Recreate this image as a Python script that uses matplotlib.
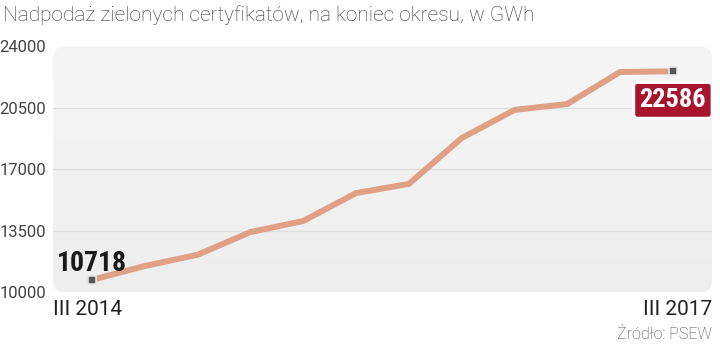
import matplotlib
matplotlib.use("Agg")
import matplotlib.pyplot as plt
import numpy as np
from matplotlib.patches import FancyBboxPatch
import matplotlib.patheffects as pe

# ---- data ----
values = [10718, 11510, 12150, 13440, 14070, 15660, 16180, 18790, 20390, 20730, 22550, 22586]
first_label = "III 2014"
last_label = "III 2017"
y_ticks = [10000, 13500, 17000, 20500, 24000]
grid_levels = [13500, 17000, 20500]
title = "Nadpodaż zielonych certyfikatów, na koniec okresu, w GWh"
source = "Źródło: PSEW"

W, H, DPI = 720, 344, 100
fig = plt.figure(figsize=(W / DPI, H / DPI), dpi=DPI)
fig.patch.set_facecolor("white")

ax_l, ax_r, ax_t, ax_b = 53, 712, 46.5, 292.5
ax = fig.add_axes([ax_l / W, 1 - ax_b / H, (ax_r - ax_l) / W, (ax_b - ax_t) / H])
ax.patch.set_visible(False)
for s in ax.spines.values():
    s.set_visible(False)

x = np.arange(len(values))
ax.set_xlim(-0.74, len(values) - 1 + 0.74)
ax.set_ylim(y_ticks[0], y_ticks[-1])

# rounded background with slight gradient
bg = FancyBboxPatch((ax_l / DPI, (H - ax_b) / DPI), (ax_r - ax_l) / DPI, (ax_b - ax_t) / DPI,
                    boxstyle="round,pad=0,rounding_size=0.12",
                    transform=fig.dpi_scale_trans, facecolor="none", edgecolor="none", zorder=0)
fig.add_artist(bg)
grad = np.linspace(0, 1, 256).reshape(-1, 1)
img = ax.imshow(grad, extent=[ax.get_xlim()[0], ax.get_xlim()[1], y_ticks[0], y_ticks[-1]],
                aspect="auto", cmap=matplotlib.colors.LinearSegmentedColormap.from_list(
                    "g", ["#f6f6f6", "#eeeeee"]), origin="upper", zorder=0)
img.set_clip_path(bg)

for g in grid_levels:
    ax.axhline(g, color="#dedede", lw=1.0, zorder=1)

ax.plot(x, values, color="#DFA086", lw=4.3, solid_joinstyle="miter", zorder=3)
ax.plot([x[0], x[-1]], [values[0], values[-1]], ls="none", marker="s", ms=5.5,
        mfc="#555555", mec="#e6e6e6", mew=1.2, zorder=4)

ax.set_xticks([])
ax.set_yticks(y_ticks)
ax.set_yticklabels([str(v) for v in y_ticks])
ax.tick_params(axis="y", length=0, pad=5, labelsize=12, labelcolor="#444444")
for lab in ax.get_yticklabels():
    lab.set_fontfamily("Roboto")

narrow = ["Liberation Sans Narrow", "Roboto Condensed", "Noto Sans Condensed",
          "Open Sans Condensed", "DejaVu Sans"]
ax.annotate(str(values[0]), (x[0], values[0]), xytext=(0, 9), textcoords="offset pixels",
            ha="center", va="baseline", fontsize=20, fontweight="bold", fontstretch="condensed",
            family=narrow, color="#1a1a1a", zorder=5)
t = ax.annotate(str(values[-1]), (x[-1], values[-1]), xytext=(0, -29), textcoords="offset pixels",
                ha="center", va="center", fontsize=19, fontweight="bold", fontstretch="condensed",
                family=narrow, color="white", zorder=6,
                bbox=dict(boxstyle="round,pad=0.22,rounding_size=0.15", fc="#A8142E",
                          ec="white", lw=2))
t.get_bbox_patch().set_path_effects([pe.withSimplePatchShadow(offset=(0.5, -0.5),
                                                              shadow_rgbFace="#999999", alpha=0.5)])

fig.text(3 / W, 1 - 21 / H, title, fontsize=15, family="Roboto", fontweight="light",
         color="#333333", va="baseline", ha="left")
fig.text(ax_l / W, 1 - 315 / H, first_label, fontsize=15, family="Roboto",
         color="#222222", va="baseline", ha="left")
fig.text(ax_r / W, 1 - 315 / H, last_label, fontsize=15, family="Roboto",
         color="#222222", va="baseline", ha="right")
fig.text(ax_r / W, 1 - 339 / H, source, fontsize=11.5, family="Roboto", fontweight="light",
         color="#444444", va="baseline", ha="right")

fig.savefig("out.png", dpi=DPI)
